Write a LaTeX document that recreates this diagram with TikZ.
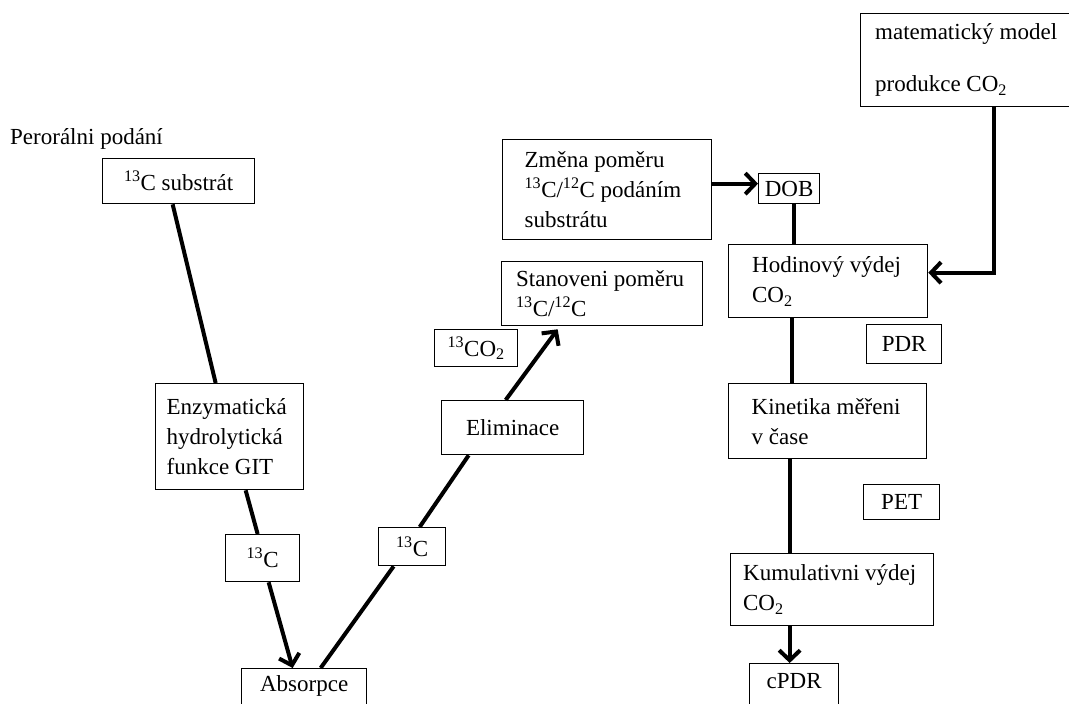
\documentclass[tikz,border=0pt]{standalone}
\usepackage{fontspec}
\setmainfont{Liberation Serif}
\usetikzlibrary{arrows.meta}

\begin{document}
\begin{tikzpicture}[
  x=1pt, y=-1pt,
  every node/.style={font=\fontsize{23}{30}\selectfont},
  box/.style={rectangle, draw=black, line width=1.3pt, anchor=north west,
              inner xsep=0pt, inner ysep=0pt, align=flush left},
  cbox/.style={box, align=center},
  conn/.style={line width=4pt},
  arr/.style={conn, -{Straight Barb[length=10pt, width=21pt]}},
]
\useasboundingbox (0,0) rectangle (1069,704);

% ── Levá větev: podání a absorpce ───────────────────────────────────
\node[anchor=base west, inner sep=0pt] (perorl) at (10,144) {Perorálni podání};
\node[cbox, minimum width=152, minimum height=45] (substr) at (102,158)
  {\textsuperscript{13}C substrát};
\node[box, minimum width=148, minimum height=106, text width=126] (enz) at (155,383)
  {Enzymatická\\hydrolytická\\funkce GIT};
\node[cbox, minimum width=74, minimum height=47] (c13a) at (225,534)
  {\textsuperscript{13}C};
\node[cbox, minimum width=125, text height=23, text depth=20] (absorp) at (241,668)
  {Absorpce};

% ── Eliminace a stanovení ───────────────────────────────────────────
\node[cbox, minimum width=67, minimum height=38] (c13b) at (378,527)
  {\textsuperscript{13}C};
\node[cbox, minimum width=142, minimum height=54] (elim) at (441,400)
  {Eliminace};
\node[cbox, minimum width=83, minimum height=37] (c13co2) at (434,329)
  {\textsuperscript{13}CO\textsubscript{2}};
\node[box, minimum width=201, minimum height=64, text width=172] (stan) at (501,261)
  {Stanoveni poměru\\\textsuperscript{13}C/\textsuperscript{12}C};

% ── Pravá větev: DOB, PDR, cPDR ─────────────────────────────────────
\node[box, minimum width=209, minimum height=100, text width=165] (zmena) at (502,139)
  {Změna poměru\\\textsuperscript{13}C/\textsuperscript{12}C podáním\\substrátu};
\node[cbox, minimum width=61, minimum height=30] (dob) at (758,173) {DOB};
\node[box, minimum width=215, minimum height=93, text width=186] (mat) at (860,13)
  {matematický model\\[22pt]produkce CO\textsubscript{2}};
\node[box, minimum width=199, minimum height=73, text width=152] (hod) at (728,244)
  {Hodinový výdej\\CO\textsubscript{2}};
\node[cbox, minimum width=75, minimum height=39] (pdr) at (866,324) {PDR};
\node[box, minimum width=198, minimum height=75, text width=152] (kin) at (728,383)
  {Kinetika měřeni\\v čase};
\node[cbox, minimum width=76, minimum height=35] (pet) at (863,484) {PET};
\node[box, minimum width=203, minimum height=72, text width=178] (kum) at (730,553)
  {Kumulativni výdej\\CO\textsubscript{2}};
\node[cbox, minimum width=89, text height=25, text depth=20] (cpdr) at (749,663)
  {cPDR};

% ── Spojnice vlevo ──────────────────────────────────────────────────
\draw[conn] ([xshift=-6]substr.south) -- ([xshift=-14]enz.north);
\draw[conn] ([xshift=16]enz.south) -- ([xshift=-5]c13a.north);
\draw[arr] ([xshift=6]c13a.south) -- ([xshift=-11.5]absorp.north);
\draw[conn] ([xshift=16.5]absorp.north) -- ([xshift=-18.5]c13b.south);
\draw[conn] ([xshift=7.5]c13b.north) -- ([xshift=-44]elim.south);
\draw[arr] ([xshift=-7]elim.north) -- ([xshift=-44.5, yshift=-3]stan.south);

% ── Spojnice vpravo ─────────────────────────────────────────────────
\draw[arr] ([yshift=6]zmena.east) -- ([yshift=6]zmena.east -| dob.west);
\draw[conn] ([xshift=4.5]dob.south) -- ([xshift=4.5]dob.south |- hod.north);
\draw[arr] ([xshift=25.5]mat.south) |- ([yshift=8.5]hod.east);
\draw[conn] ([xshift=-36.5]hod.south) -- ([xshift=-36]kin.north);
\draw[conn] ([xshift=-38]kin.south) -- ([xshift=-42.5]kum.north);
\draw[arr] ([xshift=-42.5]kum.south) -- ([xshift=-42.5]kum.south |- cpdr.north);

\end{tikzpicture}
\end{document}
